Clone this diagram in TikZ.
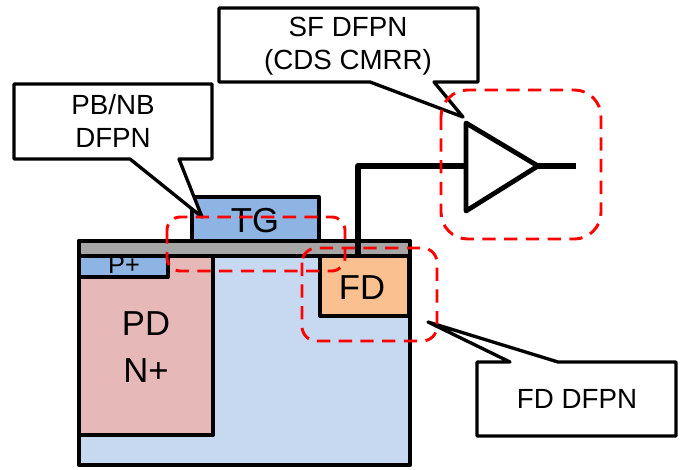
\documentclass[tikz,border=0pt]{standalone}
\usepackage{fontspec}
\setmainfont{Liberation Sans}
\usetikzlibrary{positioning,calc}

\definecolor{wellblue}{HTML}{C6D9F1}
\definecolor{gateblue}{HTML}{8EB4E3}
\definecolor{pdpink}{HTML}{E6B9B8}
\definecolor{fdorange}{HTML}{FAC090}
\definecolor{oxidegray}{HTML}{A6A6A6}

\begin{document}
\begin{tikzpicture}[
    x=0.75pt, y=-0.75pt,
    font=\fontsize{20.8}{25}\selectfont,
    layer/.style={draw, line width=3pt, line join=round},
    wire/.style={draw, line width=4.6pt, line join=round},
    callout/.style={draw, fill=white, line width=2.5pt, line join=round},
    region/.style={draw=red, line width=2.2pt, dash pattern=on 10pt off 6.3pt, rounded corners=#1},
    label/.style={align=center, inner sep=0pt},
    biglabel/.style={label, font=\fontsize{26}{32}\selectfont}
  ]
  \useasboundingbox (0,0) rectangle (684,470);

  % ---- substrate and implants ----
  \fill[wellblue] (79,241) rectangle (410,465);
  \draw[layer, fill=pdpink] (79,256) rectangle (213,435);
  \draw[layer, fill=gateblue] (79,256) rectangle (168,277);
  \node[label, font=\fontsize{19}{22}\selectfont] (pplus) at (124,265) {P+};
  \node[biglabel] (pd) at (146,347) {PD\\[3pt]N+};

  % ---- oxide and gate ----
  \draw[layer, fill=oxidegray] (79,241) rectangle (410,256);
  \draw[layer, fill=gateblue] (192,197) rectangle (319,241);
  \node[biglabel] (tg) at (255,221) {TG};

  % ---- floating diffusion ----
  \draw[layer, fill=fdorange] (320,256) rectangle (409,316);
  \node[biglabel] (fd) at (362,288) {FD};
  \draw[layer] (79,241) rectangle (410,465);

  % ---- source follower ----
  \coordinate (ampin) at (466,166);
  \coordinate (ampout) at (538,166);
  \coordinate (outend) at (576,166);
  \coordinate (fdtop) at (358,256);
  \draw[wire] (fdtop) |- (ampin);
  \draw[wire] (ampout) -- (outend);
  \draw[layer, line width=3.6pt, fill=white] (466,123) -- (ampout) -- (466,211) -- cycle;

  % ---- callouts ----
  \draw[callout] (14,84) -- (212,84) -- (212,159) -- (179,159) -- (202,217)
    -- (130,159) -- (14,159) -- cycle;
  \node[label] (pbnb) at (113,121) {PB/NB\\DFPN};
  \draw[callout] (219,8) -- (478,8) -- (478,82) -- (434,82) -- (463,117)
    -- (370,82) -- (219,82) -- cycle;
  \node[label] (sfdfpn) at (348,46) {SF DFPN\\(CDS CMRR)};
  \draw[callout] (477,362) -- (510,362) -- (428,322) -- (558,362) -- (676,362)
    -- (676,436) -- (477,436) -- cycle;
  \node[label] (fddfpn) at (577,399) {FD DFPN};

  % ---- dashed regions ----
  \draw[region=10pt] (167,217) rectangle (345,271);
  \draw[region=11pt] (302,248) rectangle (437,341);
  \draw[region=20pt] (441,90) rectangle (601,239);

\end{tikzpicture}
\end{document}
